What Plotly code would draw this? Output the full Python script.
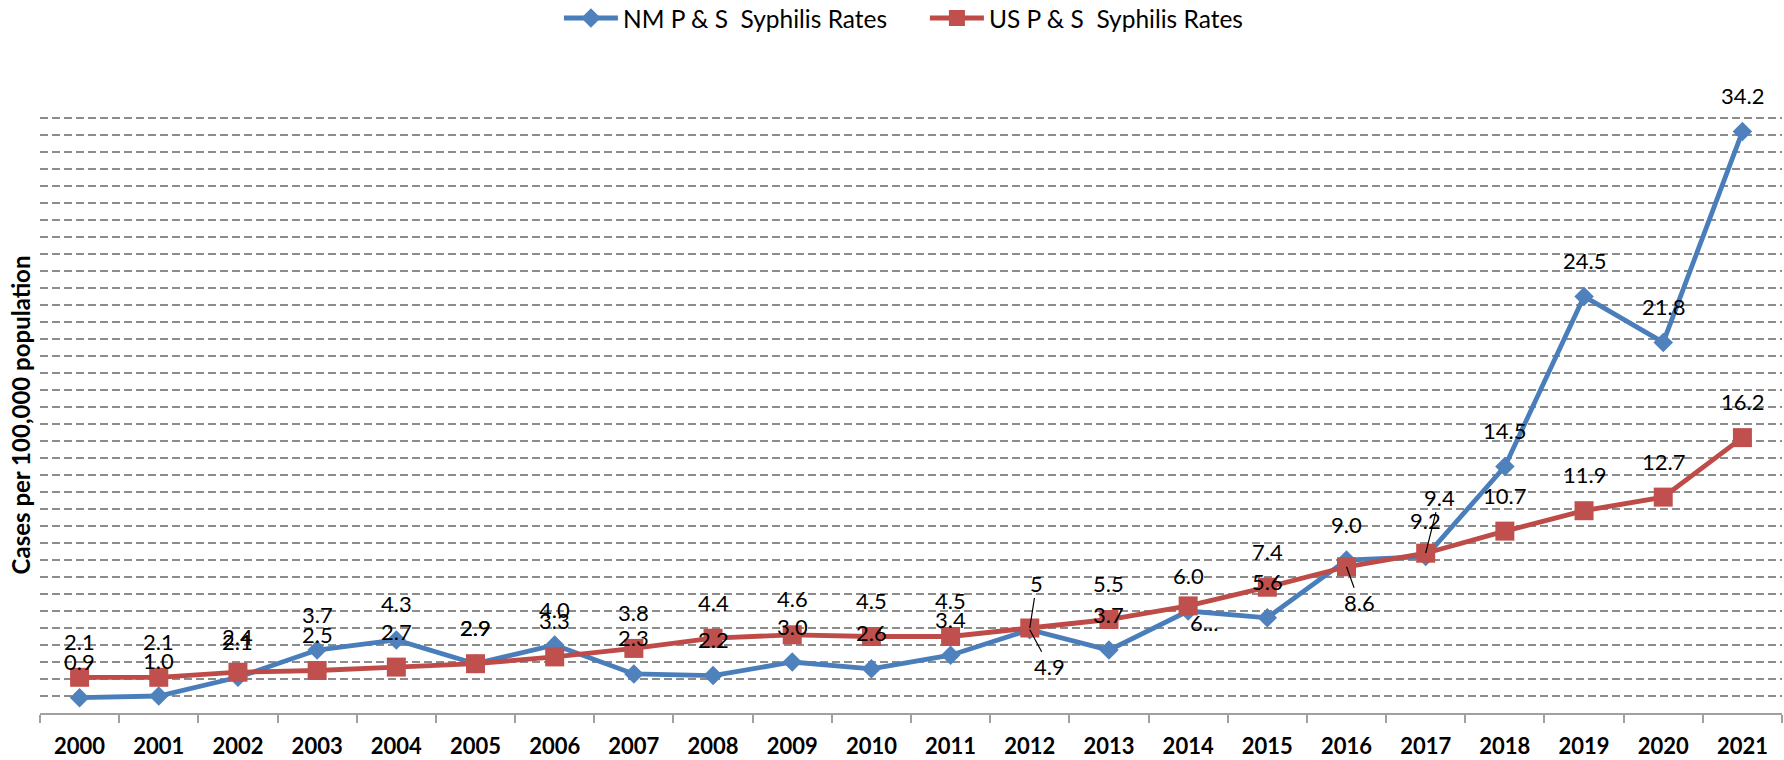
import plotly.graph_objects as go

years = [str(y) for y in range(2000, 2022)]
nm_rates = [0.9, 1.0, 2.1, 3.7, 4.3, 2.9, 4.0, 2.3, 2.2, 3.0, 2.6, 3.4, 4.9, 3.7, 6.0, 5.6, 9.0, 9.2, 14.5, 24.5, 21.8, 34.2]
us_rates = [2.1, 2.1, 2.4, 2.5, 2.7, 2.9, 3.3, 3.8, 4.4, 4.6, 4.5, 4.5, 5.0, 5.5, 6.3, 7.4, 8.6, 9.4, 10.7, 11.9, 12.7, 16.2]
nm_labels = [f"{v:.1f}" for v in nm_rates]
us_labels = [f"{v:.1f}" for v in us_rates]
us_labels[12] = "5"
us_labels[14] = "6..."

NM_NAME = "NM P & S\u00a0 Syphilis Rates"
US_NAME = "US P & S\u00a0 Syphilis Rates"

BLUE_LINE, BLUE_MK = "#4A7EBB", "#4F81BD"
RED_LINE, RED_MK = "#BE4B48", "#C0504D"
FONT = "Lato"

fig = go.Figure()
fig.add_trace(go.Scatter(
    x=years, y=nm_rates, name=NM_NAME, mode="lines+markers",
    line=dict(color=BLUE_LINE, width=4.8),
    marker=dict(symbol="diamond", size=15, color=BLUE_MK),
))
fig.add_trace(go.Scatter(
    x=years, y=us_rates, name=US_NAME, mode="lines+markers",
    line=dict(color=RED_LINE, width=4.8),
    marker=dict(symbol="square", size=19, color=RED_MK),
))

# label placement (pixel offsets relative to the point); default: above
DEFAULT = (0, -36, False)
nm_place = {12: (20, 37, True)}
us_place = {12: (7, -45, True), 14: (16, 17, False), 16: (13, 36, True), 17: (14, -56, True)}

annotations = []
for vals, labs, place in ((nm_rates, nm_labels, nm_place), (us_rates, us_labels, us_place)):
    for i, (v, t) in enumerate(zip(vals, labs)):
        dx, dy, arrow = place.get(i, DEFAULT)
        if arrow:
            annotations.append(dict(
                x=i, y=v, xref="x", yref="y", text=t, showarrow=True,
                ax=dx, ay=dy, arrowhead=0, arrowwidth=1.2, arrowcolor="black",
                standoff=0, font=dict(family=FONT, size=22, color="black"),
            ))
        else:
            annotations.append(dict(
                x=i, y=v, xref="x", yref="y", text=t, showarrow=False,
                xshift=dx, yshift=-dy, xanchor="center", yanchor="middle",
                font=dict(family=FONT, size=22, color="black"),
            ))

fig.update_layout(
    width=1784, height=760,
    margin=dict(l=40, r=2, t=117, b=47, autoexpand=False),
    paper_bgcolor="white", plot_bgcolor="white",
    font=dict(family=FONT, color="black"),
    showlegend=True,
    legend=dict(
        orientation="h", x=0.508, xanchor="center", y=1.166, yanchor="middle",
        font=dict(family=FONT, size=24.5, color="black"),
        itemwidth=54, entrywidth=297, bgcolor="rgba(0,0,0,0)",
    ),
    annotations=annotations,
)
fig.update_xaxes(
    type="category", range=[-0.5, 21.5], tickson="boundaries", ticks="outside",
    ticklen=8, tickcolor="#A0A0A0", tickwidth=1.5, showline=True,
    linecolor="#A0A0A0", linewidth=1.5, showgrid=False, zeroline=False,
    tickangle=0,
    tickfont=dict(family=FONT, size=22, color="black", weight="bold"),
    ticklabelstandoff=13,
)
fig.update_yaxes(
    range=[0, 35.06], dtick=1, showgrid=True, gridcolor="#8C8C8C", gridwidth=1.5,
    griddash="8px,4px", showticklabels=False, ticks="", zeroline=False,
    showline=False,
    title=dict(text="Cases per 100,000 population", standoff=1,
               font=dict(family=FONT, size=24, color="black", weight="bold")),
)

fig.write_html("out.html", config={"displayModeBar": False},
               post_script="document.body.style.margin='0';")
